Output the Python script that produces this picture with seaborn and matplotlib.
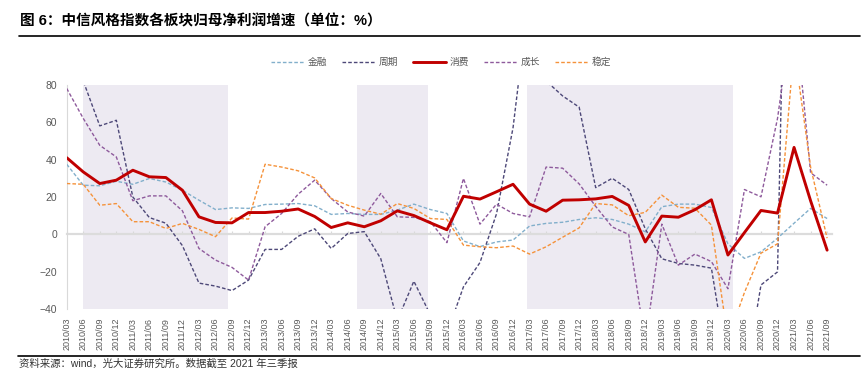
import pandas as pd
import matplotlib.pyplot as plt
import seaborn as sns
from matplotlib.lines import Line2D

# quarterly data, 2010Q1 - 2021Q3
quarters = ["2010/03", "2010/06", "2010/09", "2010/12", "2011/03", "2011/06", "2011/09", "2011/12",
            "2012/03", "2012/06", "2012/09", "2012/12", "2013/03", "2013/06", "2013/09", "2013/12",
            "2014/03", "2014/06", "2014/09", "2014/12", "2015/03", "2015/06", "2015/09", "2015/12",
            "2016/03", "2016/06", "2016/09", "2016/12", "2017/03", "2017/06", "2017/09", "2017/12",
            "2018/03", "2018/06", "2018/09", "2018/12", "2019/03", "2019/06", "2019/09", "2019/12",
            "2020/03", "2020/06", "2020/09", "2020/12", "2021/03", "2021/06", "2021/09"]

finance = [37.5, 26.3, 26, 28.4, 26.8, 29.9, 28, 23.6, 18.3, 13.3, 14.2, 13.9, 16, 16.2, 16.5, 15.3,
           10.7, 11.2, 10.7, 10.7, 13, 16.2, 13.3, 11.2, -3.5, -6.5, -4, -3, 4.5, 5.9, 6.5, 8,
           8.9, 8, 5.5, 1.4, 14.8, 16.2, 16.2, 14.4, -5, -12.8, -9.3, -2, 6, 13.9, 8.5]
cycle = [120, 82, 58, 61, 20, 9, 6, -6, -26, -27.6, -30, -24.4, -8, -8, -1, 3,
         -7.5, 0.5, 1.5, -13, -46, -25, -43, -53, -28, -15, 11, 57, 130, 82, 74, 68,
         25, 30, 24, 3, -13, -15.5, -16.4, -18, -72, -80, -27, -20, 400, 200, 150]
consumer = [41, 33.4, 27.2, 29, 34.3, 30.8, 30.4, 23.6, 9.4, 6.4, 6.2, 11.7, 11.7, 12.4, 13.6, 9.6,
            3.7, 6.2, 4.1, 7.3, 12.6, 10.1, 6.2, 2.5, 20.4, 18.9, 22.8, 26.8, 16.2, 12.4, 18.3, 18.5,
            19, 20.3, 15.5, -4, 9.8, 9.2, 13.2, 18.5, -11, 1, 12.8, 11.4, 46.5, 18, -8.4]
growth = [78, 62, 47.6, 41.4, 18, 20.6, 20.6, 12.6, -7.5, -13.7, -17.6, -24.4, 4.1, 11.2, 21.5, 29,
          19.2, 12, 9.8, 21.9, 9.4, 9.1, 6.8, -4.4, 29.9, 5.5, 16.2, 11.2, 9.4, 36, 35.4, 27,
          15, 4, 0, -58, 5.5, -16.4, -10.5, -14.5, -29, 24, 20.1, 62, 125, 33, 26.3]
stable = [27.2, 26.8, 15.6, 16.5, 6.8, 6.8, 3.2, 5.9, 2.7, -1.2, 8.8, 8.2, 37.5, 36, 34, 30.2,
          19.2, 15.6, 13, 10.8, 16.5, 13.9, 8.5, 8, -5.7, -6.6, -7.1, -6.2, -10.5, -6.6, -1.5, 3.5,
          16.5, 15.8, 10, 11.8, 21, 14.5, 14, 5, -56, -31, -10, -5, 100, 36, -2]

# shaded periods (in quarter index units)
band_start = [1.0, 17.54, 27.83]
band_end = [9.78, 21.84, 40.29]

names = ["金融", "周期", "消费", "成长", "稳定"]
values = [finance, cycle, consumer, growth, stable]
colors = ["#82AFCB", "#4D4878", "#C00000", "#8E5A9C", "#F5923A"]

df = pd.DataFrame({"idx": range(len(quarters))})
for n, v in zip(names, values):
    df[n] = v

sns.set_style("white")
plt.rcParams["font.family"] = ["Liberation Sans", "Noto Sans CJK SC"]

fig = plt.figure(figsize=(8.62, 3.79), dpi=100)
ax = fig.add_axes([0.0774, 0.1839, 0.8875, 0.5926])

for s, e in zip(band_start, band_end):
    ax.axvspan(s, e, color="#EDEAF2", lw=0, zorder=0)

for n, c in zip(names, colors):
    if n == "消费":
        sns.lineplot(data=df, x="idx", y=n, ax=ax, color=c, lw=2.1, label=n, zorder=5)
    else:
        sns.lineplot(data=df, x="idx", y=n, ax=ax, color=c, lw=1.0, label=n,
                     dashes=False, zorder=3)
        ax.lines[-1].set_dashes((2.6, 1.5))

ax.set_xlim(0, 46.28)
ax.set_ylim(-40, 80)
ax.set_yticks(range(-40, 81, 20))
ax.set_xticks(range(len(quarters)))
ax.set_xticklabels(quarters, rotation=90)
ax.set_xlabel("")
ax.set_ylabel("")
ax.tick_params(axis="x", length=0, pad=6, labelsize=6.5, labelcolor="#595959")
ax.tick_params(axis="y", direction="in", length=2, color="#D9D9D9", pad=7,
               labelsize=7.5, labelcolor="#595959")
for sp in ["top", "right", "bottom"]:
    ax.spines[sp].set_visible(False)
ax.spines["left"].set_color("#D9D9D9")
ax.spines["left"].set_linewidth(0.8)

# horizontal axis line through zero, with small tick marks
sec = ax.secondary_xaxis(0, transform=ax.transData)
sec.set_xticks(range(len(quarters)))
sec.set_xticklabels([])
sec.tick_params(direction="in", length=2.5, color="#D9D9D9", width=0.8)
sec.spines["bottom"].set_color("#DCDCDC")
sec.spines["bottom"].set_linewidth(1.6)

ax.get_legend().remove()
handles, labels = ax.get_legend_handles_labels()
fig.legend(handles, labels, loc="center", bbox_to_anchor=(0.512, 0.836), ncol=5,
           frameon=False, fontsize=7, labelcolor="#595959", handlelength=3.4,
           handletextpad=0.4, columnspacing=1.5)

fig.text(0.023, 1 - 21 / 379, "图 6：中信风格指数各板块归母净利润增速（单位：%）",
         fontsize=10.5, fontweight="bold", va="center", ha="left", color="black")
fig.add_artist(Line2D([19 / 862, 860 / 862], [1 - 36 / 379] * 2, color="black", lw=1.2))
fig.add_artist(Line2D([18 / 862, 860 / 862], [1 - 356 / 379] * 2, color="black", lw=1.2))
fig.text(0.022, 1 - 364 / 379, "资料来源：wind，光大证券研究所。数据截至 2021 年三季报",
         fontsize=7.5, va="center", ha="left", color="#333333")

plt.savefig("out.png", dpi=100)
